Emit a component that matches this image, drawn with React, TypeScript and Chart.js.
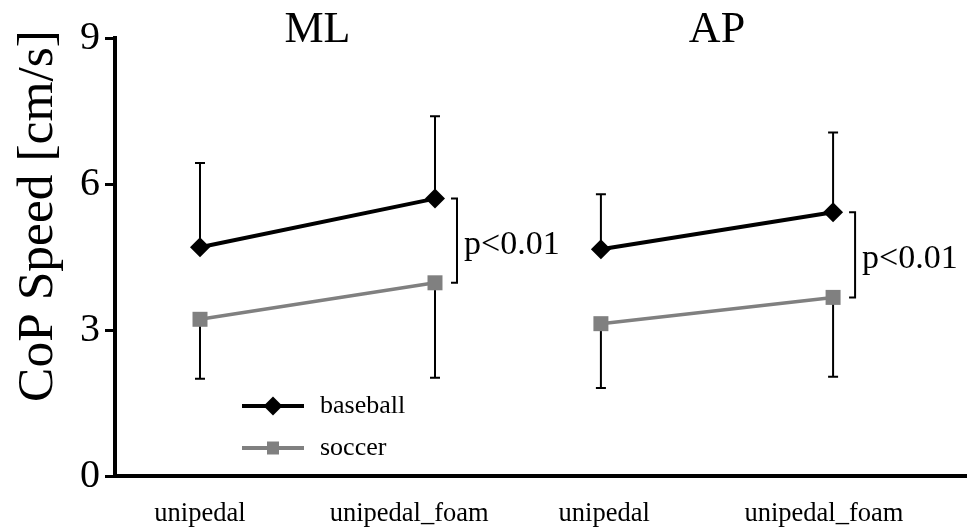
import React, { useEffect, useRef } from "react";
import { Chart, registerables } from "chart.js";

Chart.register(...registerables);

// ---- data ----
const panels = ["ML", "AP"];
const conditions = ["unipedal", "unipedal_foam", "unipedal", "unipedal_foam"];
const pointX = [1, 2, 2.706, 3.694];
const labelX = [1.0, 1.89, 2.72, 3.655];
const baseballMean = [4.7, 5.7, 4.66, 5.42];
const baseballSD = [1.73, 1.69, 1.13, 1.64];
const soccerMean = [3.22, 3.97, 3.13, 3.67];
const soccerSD = [1.22, 1.95, 1.32, 1.63];
const yTicks = [0, 3, 6, 9];
const pLabels = ["p<0.01", "p<0.01"];
const yTitle = "CoP Speed [cm/s]";
const seriesNames = ["baseball", "soccer"];

const SERIF = "'Liberation Serif', 'Times New Roman', serif";
const BLACK = "#000000";
const GRAY = "#808080";

function buildSeries(mean: number[]) {
  const out: { x: number; y: number | null }[] = [];
  for (let i = 0; i < mean.length; i++) {
    out.push({ x: pointX[i], y: mean[i] });
    if (i % 2 === 1 && i < mean.length - 1) {
      out.push({ x: (pointX[i] + pointX[i + 1]) / 2, y: null });
    }
  }
  return out;
}

const errorBarPlugin = {
  id: "errorBars",
  beforeDatasetsDraw(chart: any) {
    const { ctx } = chart;
    const xs = chart.scales.x;
    const ys = chart.scales.y;
    ctx.save();
    ctx.strokeStyle = BLACK;
    ctx.lineWidth = 2;
    const cap = 5;
    const draw = (mean: number[], sd: number[], dir: number) => {
      for (let i = 0; i < mean.length; i++) {
        const px = xs.getPixelForValue(pointX[i]);
        const y0 = ys.getPixelForValue(mean[i]);
        const y1 = ys.getPixelForValue(mean[i] + dir * sd[i]);
        ctx.beginPath();
        ctx.moveTo(px, y0);
        ctx.lineTo(px, y1);
        ctx.moveTo(px - cap, y1);
        ctx.lineTo(px + cap, y1);
        ctx.stroke();
      }
    };
    draw(baseballMean, baseballSD, 1);
    draw(soccerMean, soccerSD, -1);
    ctx.restore();
  },
};

const annotationPlugin = {
  id: "annotations",
  afterDraw(chart: any) {
    const { ctx } = chart;
    const xs = chart.scales.x;
    const ys = chart.scales.y;
    const area = chart.chartArea;
    ctx.save();
    // panel titles
    ctx.fillStyle = BLACK;
    ctx.font = `44px ${SERIF}`;
    ctx.textAlign = "center";
    ctx.textBaseline = "alphabetic";
    panels.forEach((p, k) => {
      const cx = xs.getPixelForValue((pointX[2 * k] + pointX[2 * k + 1]) / 2);
      ctx.fillText(p, cx, 42);
    });
    // y title
    ctx.save();
    ctx.translate(52, 216);
    ctx.rotate(-Math.PI / 2);
    ctx.font = `51.5px ${SERIF}`;
    ctx.textAlign = "center";
    ctx.textBaseline = "alphabetic";
    ctx.fillText(yTitle, 0, 0);
    ctx.restore();
    // significance brackets
    pLabels.forEach((lbl, k) => {
      const i = 2 * k + 1;
      const bx = xs.getPixelForValue(pointX[i]) + 22;
      const yTop = ys.getPixelForValue(baseballMean[i]);
      const yBot = ys.getPixelForValue(soccerMean[i]);
      ctx.strokeStyle = BLACK;
      ctx.lineWidth = 2;
      ctx.beginPath();
      ctx.moveTo(bx - 6, yTop);
      ctx.lineTo(bx, yTop);
      ctx.lineTo(bx, yBot);
      ctx.lineTo(bx - 6, yBot);
      ctx.stroke();
      ctx.font = `34px ${SERIF}`;
      ctx.textAlign = "left";
      ctx.textBaseline = "alphabetic";
      ctx.fillText(lbl, bx + 7, (yTop + yBot) / 2 + 13);
    });
    // legend
    const lx0 = area.left + 127;
    const lx1 = area.left + 189;
    const mx = (lx0 + lx1) / 2;
    const rows = [area.top + 368, area.top + 410];
    seriesNames.forEach((name, k) => {
      const y = rows[k];
      const col = k === 0 ? BLACK : GRAY;
      ctx.strokeStyle = col;
      ctx.lineWidth = 4;
      ctx.beginPath();
      ctx.moveTo(lx0, y);
      ctx.lineTo(lx1, y);
      ctx.stroke();
      ctx.fillStyle = col;
      ctx.beginPath();
      if (k === 0) {
        const r = 9.5;
        ctx.moveTo(mx - r, y);
        ctx.lineTo(mx, y - r);
        ctx.lineTo(mx + r, y);
        ctx.lineTo(mx, y + r);
        ctx.closePath();
      } else {
        ctx.rect(mx - 6, y - 6.5, 12, 13);
      }
      ctx.fill();
      ctx.fillStyle = BLACK;
      ctx.font = `26px ${SERIF}`;
      ctx.textAlign = "left";
      ctx.textBaseline = "alphabetic";
      ctx.fillText(name, lx1 + 16, y + 7);
    });
    ctx.restore();
  },
};

export default function App() {
  const ref = useRef<HTMLCanvasElement | null>(null);
  useEffect(() => {
    if (!ref.current) return;
    const chart = new Chart(ref.current, {
      type: "line",
      data: {
        datasets: [
          {
            label: seriesNames[0],
            data: buildSeries(baseballMean) as any,
            borderColor: BLACK,
            borderWidth: 4,
            pointStyle: "rectRot",
            pointRadius: 10,
            pointHoverRadius: 10,
            pointBackgroundColor: BLACK,
            pointBorderWidth: 0,
            spanGaps: false,
            tension: 0,
          },
          {
            label: seriesNames[1],
            data: buildSeries(soccerMean) as any,
            borderColor: GRAY,
            borderWidth: 3.5,
            pointStyle: "rect",
            pointRadius: 10.6,
            pointHoverRadius: 10.6,
            pointBackgroundColor: GRAY,
            pointBorderWidth: 0,
            spanGaps: false,
            tension: 0,
          },
        ],
      },
      options: {
        animation: false,
        responsive: true,
        maintainAspectRatio: false,
        layout: { autoPadding: false, padding: { top: 38, right: 3, bottom: 0, left: 0 } },
        plugins: {
          legend: { display: false },
          tooltip: { enabled: false },
          title: { display: false },
        },
        scales: {
          x: {
            type: "linear",
            min: 0.6383,
            max: 4.2596,
            afterBuildTicks: (scale: any) => {
              scale.ticks = labelX.map((v) => ({ value: v }));
            },
            afterFit: (scale: any) => {
              scale.height = 51;
              scale.paddingLeft = 0;
              scale.paddingRight = 0;
            },
            ticks: {
              autoSkip: false,
              maxRotation: 0,
              minRotation: 0,
              padding: 22,
              color: BLACK,
              font: { family: SERIF, size: 26.5 },
              callback: (_v: any, i: number) => conditions[i],
            },
            grid: { display: false, drawTicks: false },
            border: { display: true, width: 4, color: BLACK },
          },
          y: {
            type: "linear",
            min: 0,
            max: 9,
            afterBuildTicks: (scale: any) => {
              scale.ticks = yTicks.map((v) => ({ value: v }));
            },
            afterFit: (scale: any) => {
              scale.width = 115;
            },
            ticks: {
              padding: 5,
              color: BLACK,
              font: { family: SERIF, size: 40 },
            },
            grid: {
              display: true,
              drawOnChartArea: false,
              drawTicks: true,
              tickLength: 10,
              lineWidth: 3,
              color: BLACK,
            },
            border: { display: true, width: 4, color: BLACK },
          },
        },
      },
      plugins: [errorBarPlugin, annotationPlugin],
    });
    return () => chart.destroy();
  }, []);
  return (
    <div style={{ position: "absolute", left: 0, top: 0, width: 969, height: 527, background: "#fff" }}>
      <canvas ref={ref} />
    </div>
  );
}
